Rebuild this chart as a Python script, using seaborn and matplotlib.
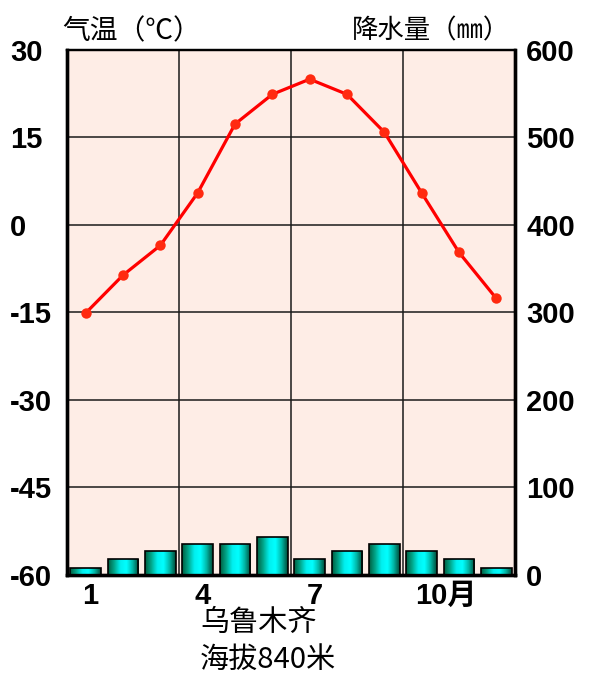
import numpy as np
import pandas as pd
import matplotlib
matplotlib.use("Agg")
import matplotlib.pyplot as plt
import matplotlib.transforms as mtransforms
from matplotlib.colors import LinearSegmentedColormap
import seaborn as sns

# data
months = [1, 2, 3, 4, 5, 6, 7, 8, 9, 10, 11, 12]
temp = [-15.1, -8.6, -3.5, 5.5, 17.3, 22.4, 25.0, 22.4, 15.9, 5.5, -4.7, -12.6]
precip = [8, 18, 27, 35, 35, 44, 18, 27, 35, 27, 18, 8]
month_ticks = [1, 4, 7, 10]
month_labels = ["1", "4", "7", "10月"]
temp_ticks = [-60, -45, -30, -15, 0, 15, 30]
precip_ticks = [0, 100, 200, 300, 400, 500, 600]

df = pd.DataFrame({"month": months, "temp": temp, "precip": precip})

sns.set_theme(style="white")
plt.rcParams["font.family"] = ["Liberation Sans", "Noto Sans CJK SC", "DejaVu Sans"]
plt.rcParams["axes.unicode_minus"] = False
plt.rcParams["text.color"] = "black"
plt.rcParams["xtick.color"] = "black"
plt.rcParams["ytick.color"] = "black"
cjk = ["Noto Sans CJK SC", "DejaVu Sans"]

fig = plt.figure(figsize=(6.12, 6.84), dpi=100)
ax = fig.add_axes([67 / 612, 109 / 684, 448 / 612, 525 / 684])
ax.set_facecolor("#FEEDE6")
ax2 = ax.twinx()

# precipitation bars, horizontal gradient fill
sns.barplot(data=df, x="month", y="precip", ax=ax2, native_scale=True,
            width=0.82, color="#00ffff", edgecolor="black", linewidth=1.2)
grad = LinearSegmentedColormap.from_list(
    "bar", ["#005e40", "#00a88c", "#00f0f0", "#00ffff", "#00b8a8", "#004a36"])
gimg = np.linspace(0, 1, 64).reshape(1, -1)
for p in ax2.patches:
    x0, y0 = p.get_x(), p.get_y()
    w, h = p.get_width(), p.get_height()
    im = ax2.imshow(gimg, cmap=grad, aspect="auto", extent=[x0, x0 + w, y0, y0 + h],
                    zorder=p.get_zorder() - 0.1, interpolation="bilinear")
    im.set_clip_path(p)
    p.set_facecolor("none")

# temperature line
sns.lineplot(data=df, x="month", y="temp", ax=ax, color="#ff0000", linewidth=2.3,
             marker="o", markersize=7.5, markeredgewidth=0, markerfacecolor="#ff2a10")

ax.set_xlim(0.5, 12.5)
ax.set_ylim(-60, 30)
ax2.set_ylim(0, 600)
ax.set_yticks(temp_ticks)
ax2.set_yticks(precip_ticks)
ax.set_xticks(month_ticks)
ax.set_xticklabels(month_labels)
ax.set_xticks([3.5, 6.5, 9.5], minor=True)

ax.grid(False)
ax2.grid(False)
ax.yaxis.grid(True, color="#1a1a1a", linewidth=1.1)
ax.xaxis.grid(True, which="minor", color="#1a1a1a", linewidth=1.1)
ax.set_axisbelow(True)

ax.set_xlabel("")
ax.set_ylabel("")
ax2.set_xlabel("")
ax2.set_ylabel("")

ax.tick_params(axis="y", length=0, pad=41, labelsize=21)
for t in ax.get_yticklabels():
    t.set_fontweight("bold")
    t.set_horizontalalignment("left")
ax2.tick_params(axis="y", length=0, pad=8, labelsize=21)
for t in ax2.get_yticklabels():
    t.set_fontweight("bold")
ax.tick_params(axis="x", which="both", length=0, pad=5, labelsize=21)
shift = mtransforms.ScaledTranslation(5 / 100, 0, fig.dpi_scale_trans)
for t in ax.get_xticklabels():
    t.set_fontweight("bold")
    t.set_family(["Liberation Sans", "Noto Sans CJK SC", "DejaVu Sans"])
    t.set_transform(t.get_transform() + shift)
labs = ax.get_xticklabels()
labs[-1].set_horizontalalignment("left")
labs[-1].set_transform(labs[-1].get_transform() + mtransforms.ScaledTranslation(-12 / 100, 0, fig.dpi_scale_trans))

for a in (ax, ax2):
    for s in a.spines.values():
        s.set_color("black")
        s.set_visible(True)
    a.spines["left"].set_linewidth(2.4)
    a.spines["bottom"].set_linewidth(2.4)
    a.spines["right"].set_linewidth(2.4)
    a.spines["top"].set_linewidth(1.6)

fig.text(62 / 612, 1 - 31 / 684, "气温（℃）", family=cjk, fontsize=20, va="center", ha="left")
fig.text(352 / 612, 1 - 31 / 684, "降水量（㎜）", family=cjk, fontsize=19, va="center", ha="left")
fig.text(200 / 612, 1 - 623 / 684, "乌鲁木齐", family=cjk, fontsize=21, va="center", ha="left")
fig.text(200 / 612, 1 - 660 / 684, "海拔840米", family=cjk, fontsize=21, va="center", ha="left")

fig.savefig("out.png", dpi=100)
